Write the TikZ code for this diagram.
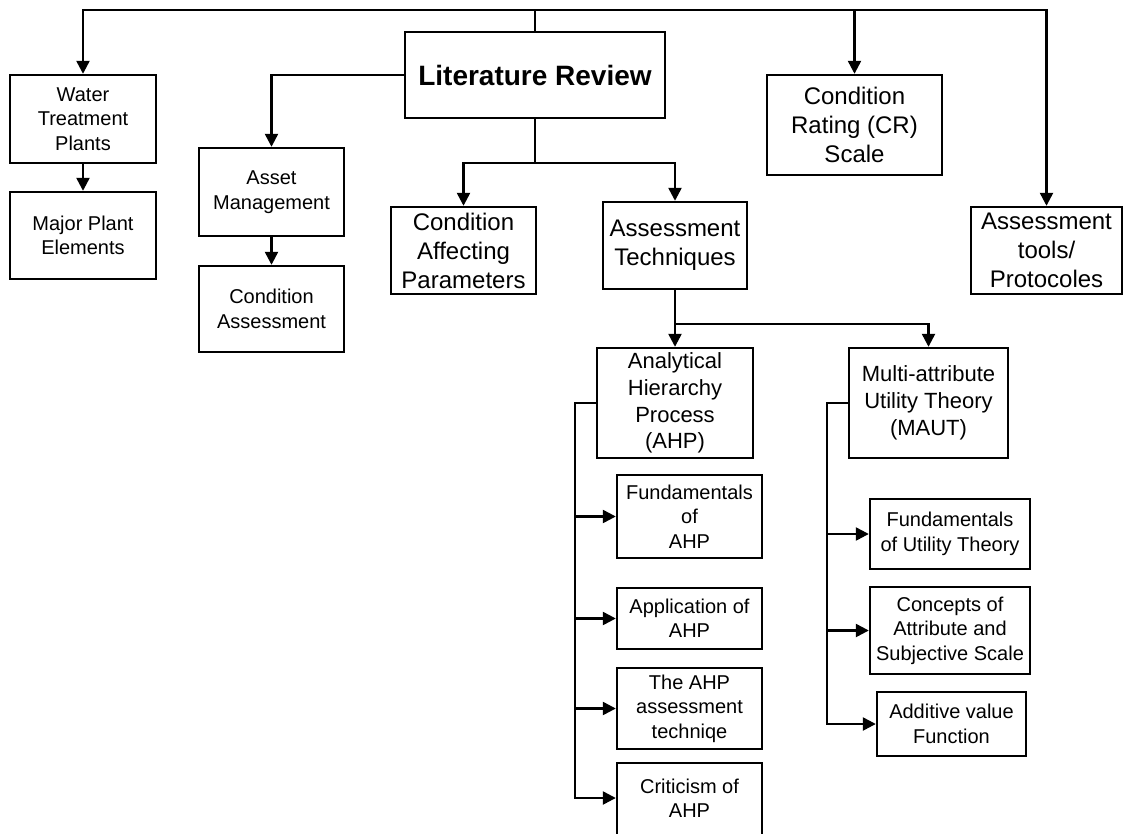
\documentclass[tikz,border=0pt]{standalone}
\usepackage{fontspec}
\setmainfont{Liberation Sans}
\usetikzlibrary{arrows.meta}

\tikzset{
  box/.style={draw, line width=2.4pt, inner sep=0pt, align=center, rectangle},
  fsmall/.style={font=\fontsize{20}{24.4}\selectfont},
  fmid/.style={font=\fontsize{22}{26.7}\selectfont},
  fbig/.style={font=\fontsize{24}{29}\selectfont},
  ftitle/.style={font=\bfseries\fontsize{28}{33}\selectfont},
  link/.style={line width=2.4pt},
  arr/.style={link, -{Triangle[length=13pt,width=13pt]}},
}

\begin{document}
\begin{tikzpicture}[x=1pt,y=-1pt]
\useasboundingbox (0,0) rectangle (1124,834);

% boxes
\node[box, ftitle, minimum width=260, minimum height=86] (lr) at (535,75) {Literature Review};
\node[box, fsmall, minimum width=146, minimum height=88] (wtp) at (83,119) {Water\\Treatment\\Plants};
\node[box, fsmall, minimum width=146, minimum height=87] (mpe) at (83,235.5) {Major Plant\\Elements};
\node[box, fsmall, minimum width=145, minimum height=88] (am) at (271.5,192) {Asset\\Management};
\node[box, fsmall, minimum width=145, minimum height=86] (ca) at (271.5,309) {Condition\\Assessment};
\node[box, fbig, minimum width=145, minimum height=87] (cap) at (463.5,250.5) {Condition\\Affecting\\Parameters};
\node[box, fbig, minimum width=144, minimum height=87] (at) at (675,245.5) {Assessment\\Techniques};
\node[box, fbig, minimum width=175, minimum height=100] (cr) at (854.5,125) {Condition\\Rating (CR)\\Scale};
\node[box, fbig, minimum width=151, minimum height=87] (tools) at (1046.5,250.5) {Assessment\\tools/\\Protocoles};
\node[box, fmid, minimum width=156, minimum height=110] (ahp) at (675,403) {Analytical\\Hierarchy\\Process\\(AHP)};
\node[box, fmid, minimum width=159, minimum height=110] (maut) at (928.5,403) {Multi-attribute\\Utility Theory\\(MAUT)};

\node[box, fsmall, minimum width=145, minimum height=83] (fund) at (689.5,516.5) {Fundamentals\\of\\AHP};
\node[box, fsmall, minimum width=145, minimum height=61] (app) at (689.5,618.5) {Application of\\AHP};
\node[box, fsmall, minimum width=145, minimum height=81] (tech) at (689.5,708.5) {The AHP\\assessment\\techniqe};
% the last box runs past the lower edge of the page
\node[box, minimum width=145, minimum height=100] (crit) at (689.5,813) {};
\node[fsmall, align=center, inner sep=0pt] (critlabel) at (689.5,798) {Criticism of\\AHP};

\node[box, fsmall, minimum width=160, minimum height=70] (fut) at (950,534) {Fundamentals\\of Utility Theory};
\node[box, fsmall, minimum width=160, minimum height=87] (conc) at (950,630.5) {Concepts of\\Attribute and\\Subjective Scale};
\node[box, fsmall, minimum width=149, minimum height=64] (add) at (951.5,724) {Additive value\\Function};

% junction points
\coordinate (topbus) at (535,10);
\coordinate (j1) at (535,163);
\coordinate (j2) at (675,324);
\coordinate (ab) at (575,0);
\coordinate (mb) at (827,0);

% top bus
\draw[link] (lr.north) -- (topbus);
\draw[arr] (topbus) -| (wtp.north);
\draw[arr] (topbus) -| (cr.north);
\draw[arr] (topbus) -| (tools.north);

% left branch
\draw[arr] (lr.west) -| (am.north);
\draw[arr] (wtp.south) -- (mpe.north);
\draw[arr] (am.south) -- (ca.north);

% lower branch
\draw[link] (lr.south) -- (j1);
\draw[arr] (j1) -| (cap.north);
\draw[arr] (j1) -| (at.north);

% techniques
\draw[link] (at.south) -- (j2);
\draw[arr] (j2) -- (ahp.north);
\draw[arr] (j2) -| (maut.north);

% AHP topics
\draw[arr] (ahp.west) -- (ahp.west -| ab) |- (crit.west |- critlabel);
\draw[arr] (ab |- fund.west) -- (fund.west);
\draw[arr] (ab |- app.west) -- (app.west);
\draw[arr] (ab |- tech.west) -- (tech.west);

% MAUT topics
\draw[arr] (maut.west) -- (maut.west -| mb) |- (add.west);
\draw[arr] (mb |- fut.west) -- (fut.west);
\draw[arr] (mb |- conc.west) -- (conc.west);
\end{tikzpicture}
\end{document}
